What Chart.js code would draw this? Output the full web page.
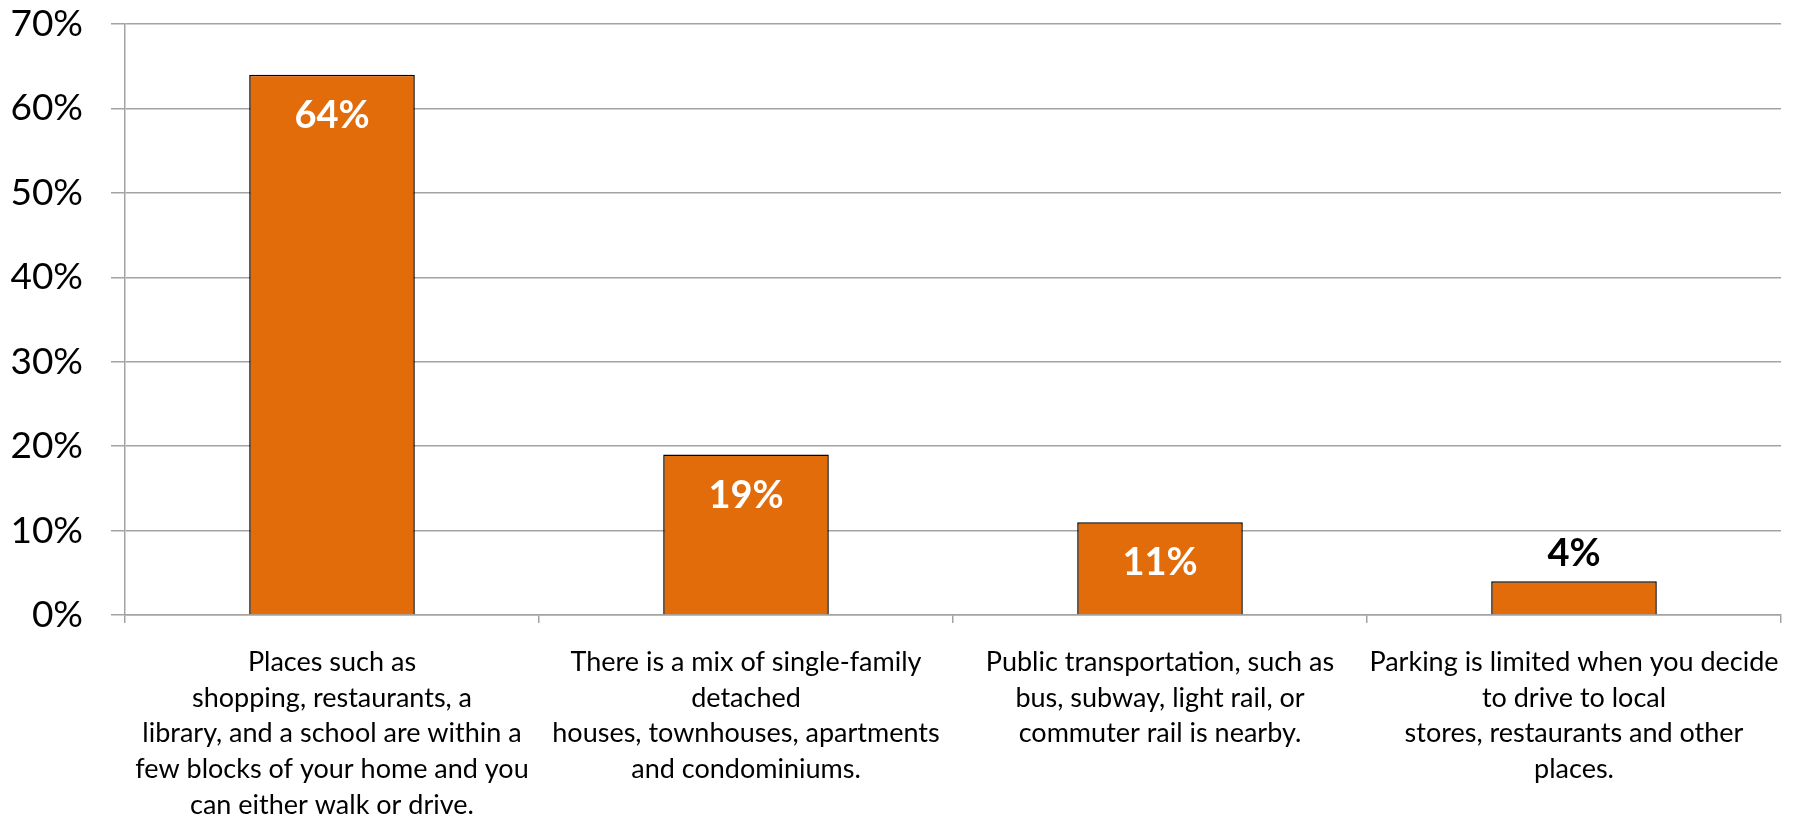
<!DOCTYPE html>
<html>
<head>
<meta charset="utf-8">
<script src="https://cdn.jsdelivr.net/npm/chart.js@4"></script>
<style>
  html, body { margin: 0; padding: 0; background: #fff; }
  #wrap { width: 1797px; height: 818px; }
</style>
</head>
<body>
<div id="wrap"><canvas id="chart"></canvas></div>
<script>
// category labels, pre-broken into lines as in the original
const categories = [
    ["Places such as", "shopping, restaurants, a", "library, and a school are within a", "few blocks of your home and you", "can either walk or drive."],
    ["There is a mix of single-family", "detached", "houses, townhouses, apartments", "and condominiums."],
    ["Public transportation, such as", "bus, subway, light rail, or", "commuter rail is nearby."],
    ["Parking is limited when you decide", "to drive to local", "stores, restaurants and other", "places."]
];
const shares = [64, 19, 11, 4];
const yTicks = [0, 10, 20, 30, 40, 50, 60, 70];

const FONT = "Lato, 'Open Sans', sans-serif";
const GRID = "#a3a3a3";

// draws the percentage on each bar: inside in white for tall bars, above in black for short ones
const valueLabels = {
    id: "valueLabels",
    afterDatasetsDraw(chart) {
        const ctx = chart.ctx;
        const meta = chart.getDatasetMeta(0);
        ctx.save();
        ctx.font = "bold 38px " + FONT;
        ctx.textAlign = "center";
        ctx.textBaseline = "middle";
        meta.data.forEach((bar, i) => {
            const v = shares[i];
            const inside = v >= 10;
            ctx.fillStyle = inside ? "#ffffff" : "#000000";
            const y = inside ? bar.y + 41 : bar.y - 27;
            ctx.fillText(v + "%", bar.x, y);
        });
        ctx.restore();
    }
};

new Chart(document.getElementById("chart"), {
    type: "bar",
    data: {
        labels: categories,
        datasets: [{
            data: shares,
            backgroundColor: "#e36c0a",
            borderColor: "#000000",
            borderWidth: 1.5,
            barPercentage: 0.4,
            categoryPercentage: 1.0
        }]
    },
    options: {
        responsive: true,
        maintainAspectRatio: false,
        animation: false,
        layout: { padding: { left: 0, top: 0, right: 16, bottom: 0 } },
        scales: {
            x: {
                grid: {
                    offset: true,
                    drawOnChartArea: false,
                    color: GRID,
                    lineWidth: 1.5,
                    tickLength: 8
                },
                border: { color: GRID, width: 1.5 },
                ticks: {
                    color: "#000",
                    font: { family: FONT, size: 27, lineHeight: 1.33 },
                    padding: 21,
                    maxRotation: 0,
                    autoSkip: false
                },
                // fixed label band height and no extra side insets from the long labels
                afterFit(scale) {
                    scale.height = 818 - 615;
                    scale.paddingLeft = 0;
                    scale.paddingRight = 0;
                }
            },
            y: {
                min: 0,
                max: 70,
                afterBuildTicks(scale) { scale.ticks = yTicks.map(v => ({ value: v })); },
                grid: { color: GRID, lineWidth: 1.5, tickLength: 14 },
                border: { color: GRID, width: 1.5 },
                ticks: {
                    color: "#000",
                    font: { family: FONT, size: 37 },
                    padding: 28,
                    callback: v => v + "%"
                },
                // fixed axis width and top inset so the plot area starts where the original does
                afterFit(scale) {
                    scale.width = 125;
                    scale.paddingTop = 24;
                }
            }
        },
        plugins: {
            legend: { display: false },
            tooltip: { enabled: false }
        }
    },
    plugins: [valueLabels]
});
</script>
</body>
</html>
